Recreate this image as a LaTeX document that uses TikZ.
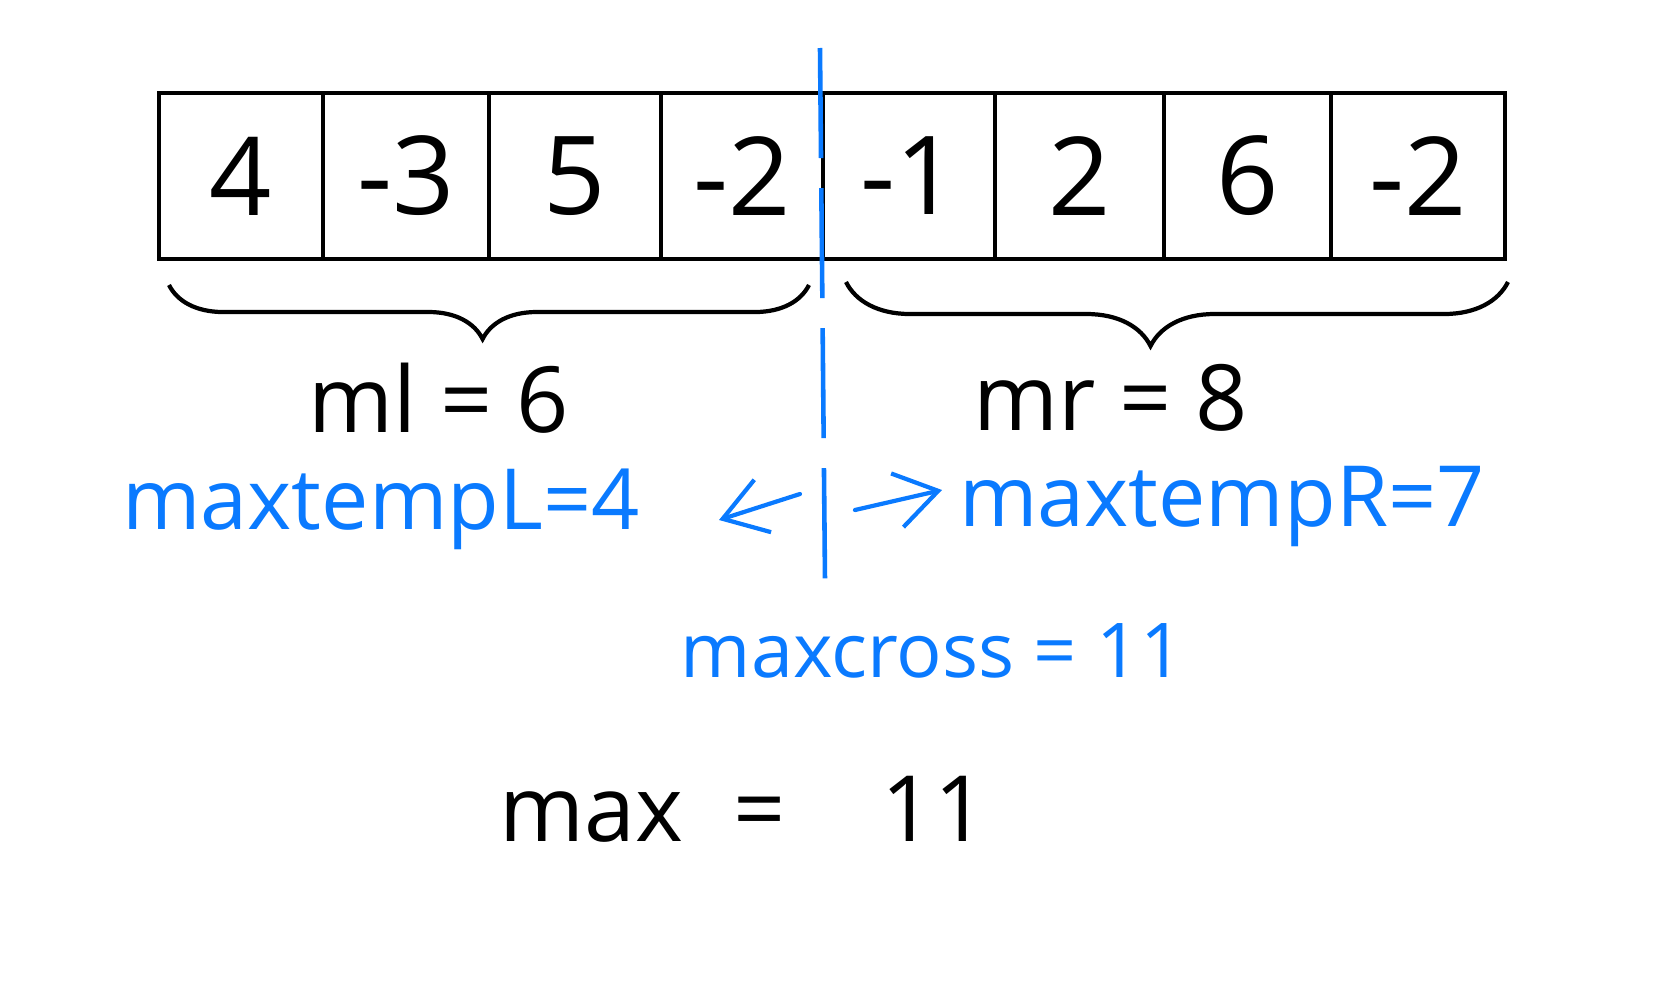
\documentclass[tikz,border=0pt]{standalone}
\usepackage{fontspec}
\setmainfont{Open Sans}
\usetikzlibrary{arrows.meta,decorations.pathreplacing}
\definecolor{penblue}{RGB}{10,122,255}
\begin{document}
\begin{tikzpicture}[x=0.01cm,y=-0.01cm,
  cell/.style={draw=black, line width=1.2pt, minimum height=1.66cm, inner sep=0pt,
               font=\fontsize{31}{37}\selectfont},
  blacklabel/.style={font=\fontsize{26}{30}\selectfont, text=black, inner sep=0pt, anchor=base},
  bluelabel/.style={font=\fontsize{24}{28}\selectfont, text=penblue, inner sep=0pt, anchor=base},
  bracestyle/.style={draw=black, line width=1.2pt, decorate,
                     decoration={brace, mirror, amplitude=#1}},
  penarrow/.style={draw=penblue, line width=1.2pt, line cap=round,
                   -{Straight Barb[length=0.42cm,width=0.55cm,line width=1.2pt]}},
  divider/.style={draw=penblue, line width=1.3pt, dash pattern=on 1.1cm off 0.3cm}
]
\useasboundingbox (0,0) rectangle (1659,1000);

% array cells
\node[cell, minimum width=1.64cm] (c1) at (241,176) {4};
\node[cell, minimum width=1.66cm] (c2) at (406,176) {-3};
\node[cell, minimum width=1.72cm] (c3) at (575,176) {5};
\node[cell, minimum width=1.62cm] (c4) at (742,176) {-2};
\node[cell, minimum width=1.72cm] (c5) at (909,176) {-1};
\node[cell, minimum width=1.69cm] (c6) at (1079.5,176) {2};
\node[cell, minimum width=1.67cm] (c7) at (1247.5,176) {6};
\node[cell, minimum width=1.74cm] (c8) at (1418,176) {-2};

% dashed divider
\coordinate (dtop) at (820,48);
\coordinate (dbot) at (825,580);
\draw[divider] (dtop) -- (dbot);

% braces
\coordinate (bl1) at (169,285);
\coordinate (bl2) at (809,285);
\coordinate (br1) at (846,282);
\coordinate (br2) at (1508,282);
\draw[bracestyle=0.54cm, decoration={aspect=0.49}] (bl1) -- (bl2);
\draw[bracestyle=0.64cm, decoration={aspect=0.46}] (br1) -- (br2);

% labels
\node[blacklabel] (ml) at (439,432) {ml = 6};
\node[blacklabel] (mr) at (1111,430) {mr = 8};
\node[bluelabel] (mtl) at (381,529) {maxtempL=4};
\node[bluelabel] (mtr) at (1222,526) {maxtempR=7};
\node[bluelabel, font=\fontsize{21.5}{26}\selectfont] (mc) at (932,677) {maxcross = 11};
\node[blacklabel] (mx) at (743,841) {max\hspace{0.55em}=\hspace{1.05em}11};

% arrows
\coordinate (al1) at (800,494);
\coordinate (al2) at (719,520);
\coordinate (ar1) at (855,510);
\coordinate (ar2) at (942,490);
\draw[penarrow] (al1) -- (al2);
\draw[penarrow] (ar1) -- (ar2);
\end{tikzpicture}
\end{document}
